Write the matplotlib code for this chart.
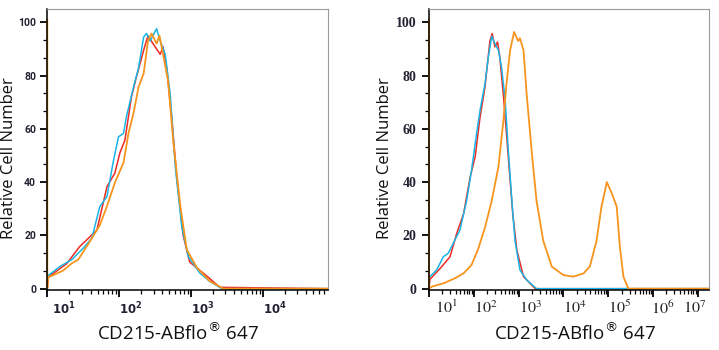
import numpy as np
import matplotlib
matplotlib.use('Agg')
import matplotlib.pyplot as plt
import matplotlib.transforms as mtransforms
from matplotlib.ticker import FixedLocator, NullFormatter, AutoMinorLocator

# histogram traces, x in decades (log10 of intensity), y = relative cell number
left_x_red = [1.0, 1.01, 1.27, 1.45, 1.69, 1.83, 1.94, 2.01, 2.08, 2.17, 2.24, 2.34, 2.40,
              2.47, 2.57, 2.61, 2.66, 2.73, 2.80, 2.89, 2.98, 3.22, 3.40, 4.90]
left_y_red = [0, 4.3, 9.4, 15.8, 22, 38.3, 43.4, 51, 55.8, 72, 79.5, 89.5, 95,
              92, 88, 90.8, 83, 64.5, 42, 20, 10, 4.7, 0.5, 0]

left_x_blue = [1.01, 1.18, 1.34, 1.50, 1.62, 1.73, 1.83, 1.92, 1.99, 2.06, 2.10, 2.20, 2.27,
               2.34, 2.38, 2.43, 2.52, 2.57, 2.64, 2.71, 2.78, 2.87, 2.96, 3.12, 3.26, 3.43, 4.90]
left_y_blue = [4.9, 8.4, 10.9, 15.2, 19, 30.8, 34.6, 48, 57, 58.3, 64.5, 75.8, 83,
               94.5, 95.8, 93, 97.6, 93, 88, 73, 45.8, 23.3, 12.1, 5.9, 2.7, 0, 0]

left_x_orange = [1.0, 1.0, 1.01, 1.22, 1.34, 1.43, 1.59, 1.73, 1.83, 1.94, 2.06, 2.13, 2.20,
                 2.27, 2.34, 2.40, 2.45, 2.52, 2.56, 2.61, 2.68, 2.75, 2.85, 2.94, 3.08,
                 3.26, 3.45, 4.90]
left_y_orange = [101, 0, 4.2, 6.8, 9.5, 10.9, 17.6, 23.8, 31, 39.8, 47.3, 58.5, 66,
                 75.8, 80.8, 93, 95.8, 92, 95, 88, 78, 55.8, 31, 14.7, 7.9,
                 2.8, 0, 0]

right_x_red = [1.0, 1.02, 1.25, 1.47, 1.62, 1.77, 1.92, 2.03, 2.14, 2.25, 2.36, 2.41, 2.47,
               2.53, 2.58, 2.67, 2.77, 2.87, 2.96, 3.11, 3.37, 7.25]
right_y_red = [0, 3.5, 7.6, 12, 20.8, 28, 42, 49.5, 64.5, 75.8, 93, 95.8, 90.8,
               92.6, 87, 70.8, 49.5, 28, 14.5, 4.5, 0, 0]

right_x_blue = [1.02, 1.17, 1.32, 1.43, 1.54, 1.69, 1.84, 1.95, 2.06, 2.14, 2.25, 2.32, 2.40,
                2.47, 2.55, 2.62, 2.70, 2.77, 2.85, 2.92, 3.03, 3.18, 3.40, 7.25]
right_y_blue = [4.5, 7, 12, 13.3, 17, 22, 33, 44.5, 58, 67, 77, 86.4, 94.8,
                92, 89.5, 83, 70.8, 52, 33, 18, 7, 3.3, 0, 0]

right_x_orange = [1.0, 1.0, 1.06, 1.32, 1.58, 1.77, 1.95, 2.10, 2.25, 2.40, 2.55, 2.66, 2.73,
                  2.81, 2.90, 2.99, 3.03, 3.11, 3.18, 3.29, 3.40, 3.55, 3.74, 4.00, 4.22,
                  4.45, 4.59, 4.74, 4.85, 4.97, 5.08, 5.19, 5.26, 5.34, 5.45, 7.25]
right_y_orange = [101, 0, 0.75, 2, 3.9, 5.75, 8.9, 15, 23, 33, 45.8, 63, 77,
                  89.5, 96.4, 93, 94, 89.5, 73, 52, 33, 18, 8.3, 5.1, 4.5,
                  5.75, 8.3, 18, 30.8, 40, 35.8, 30.8, 15.8, 4.5, 0, 0]

RED = '#ec2a24'
BLUE = '#19b5e6'
ORANGE = '#f7941d'

fig = plt.figure(figsize=(7.19, 3.5), dpi=100)


def style_axes(ax, decades, xmax, label_font):
    ax.set_xscale('log')
    ax.set_xlim(10, 10 ** xmax)
    ax.set_ylim(-0.5, 105)
    ax.xaxis.set_major_locator(FixedLocator([10.0 ** d for d in decades]))
    ax.xaxis.set_minor_locator(FixedLocator(
        [m * 10.0 ** d for d in range(1, int(xmax) + 1) for m in range(2, 10) if m * 10.0 ** d < 10 ** xmax]))
    ax.xaxis.set_major_formatter(NullFormatter())
    ax.xaxis.set_minor_formatter(NullFormatter())
    ax.set_yticks([0, 20, 40, 60, 80, 100])
    ax.yaxis.set_minor_locator(AutoMinorLocator(3))
    for s in ['top', 'right']:
        ax.spines[s].set_color('#9a9a9a')
        ax.spines[s].set_linewidth(0.8)
    for s in ['left', 'bottom']:
        ax.spines[s].set_color('black')
        ax.spines[s].set_linewidth(1.1)
    ax.tick_params(which='major', direction='out', length=5, width=1.3, color='black')
    ax.tick_params(which='minor', direction='out', length=3, width=0.9, color='black')
    ax.tick_params(axis='y', labelsize=label_font['size'], pad=label_font['pad'])
    for lab in ax.get_yticklabels():
        lab.set_fontfamily(label_font['family'])
        lab.set_fontweight(label_font['weight'])
        lab.set_color('#222233')


# ---------- left panel
ax1 = fig.add_axes([47.3 / 719, 60 / 350, 280.4 / 719, 281 / 350])
ax1.plot(np.power(10, left_x_red), left_y_red, color=RED, lw=1.1)
ax1.plot(np.power(10, left_x_blue), left_y_blue, color=BLUE, lw=1.1)
ax1.plot(np.power(10, left_x_orange), left_y_orange, color=ORANGE, lw=1.3, clip_on=False)
style_axes(ax1, [1, 2, 3, 4], 4.90, {'size': 7.5, 'family': 'Roboto', 'weight': 'bold', 'pad': 3})

left_offsets = {1: 5, 2: 0, 3: 0, 4: 0}
for d, off in left_offsets.items():
    tr = ax1.get_xaxis_transform() + mtransforms.ScaledTranslation(off / 100, -11 / 100, fig.dpi_scale_trans)
    ax1.text(10.0 ** d, 0, r'$\mathbf{10^{%d}}$' % d, transform=tr, ha='left', va='top',
             fontsize=8.5, math_fontfamily='dejavusans', color='#222233')

# ---------- right panel
ax2 = fig.add_axes([429 / 719, 60 / 350, 280 / 719, 281 / 350])
ax2.plot(np.power(10, right_x_red), right_y_red, color=RED, lw=1.1)
ax2.plot(np.power(10, right_x_blue), right_y_blue, color=BLUE, lw=1.1)
ax2.plot(np.power(10, right_x_orange), right_y_orange, color=ORANGE, lw=1.3, clip_on=False)
style_axes(ax2, [1, 2, 3, 4, 5, 6, 7], 7.25, {'size': 10, 'family': 'Liberation Serif', 'weight': 'bold', 'pad': 4})

right_offsets = {1: 6, 2: 0, 3: 0, 4: 0, 5: 0, 6: -2, 7: -15}
for d, off in right_offsets.items():
    tr = ax2.get_xaxis_transform() + mtransforms.ScaledTranslation(off / 100, -9 / 100, fig.dpi_scale_trans)
    ax2.text(10.0 ** d, 0, r'$10^{%d}$' % d, transform=tr, ha='left', va='top',
             fontsize=11.5, math_fontfamily='stix', color='#222222')

# axis titles
for xc in [9, 385]:
    fig.text(xc / 719, 1 - 158 / 350, 'Relative Cell Number', rotation=90, ha='center', va='center',
             fontsize=12, family='Open Sans', color='#111111')
for xc in [178, 575]:
    fig.text(xc / 719, 1 - 333 / 350, 'CD215-ABflo$^{\u00ae}$ 647', ha='center', va='center',
             fontsize=13.5, family='Open Sans', math_fontfamily='dejavusans', color='#111111')

plt.savefig('out.png', dpi=100)
